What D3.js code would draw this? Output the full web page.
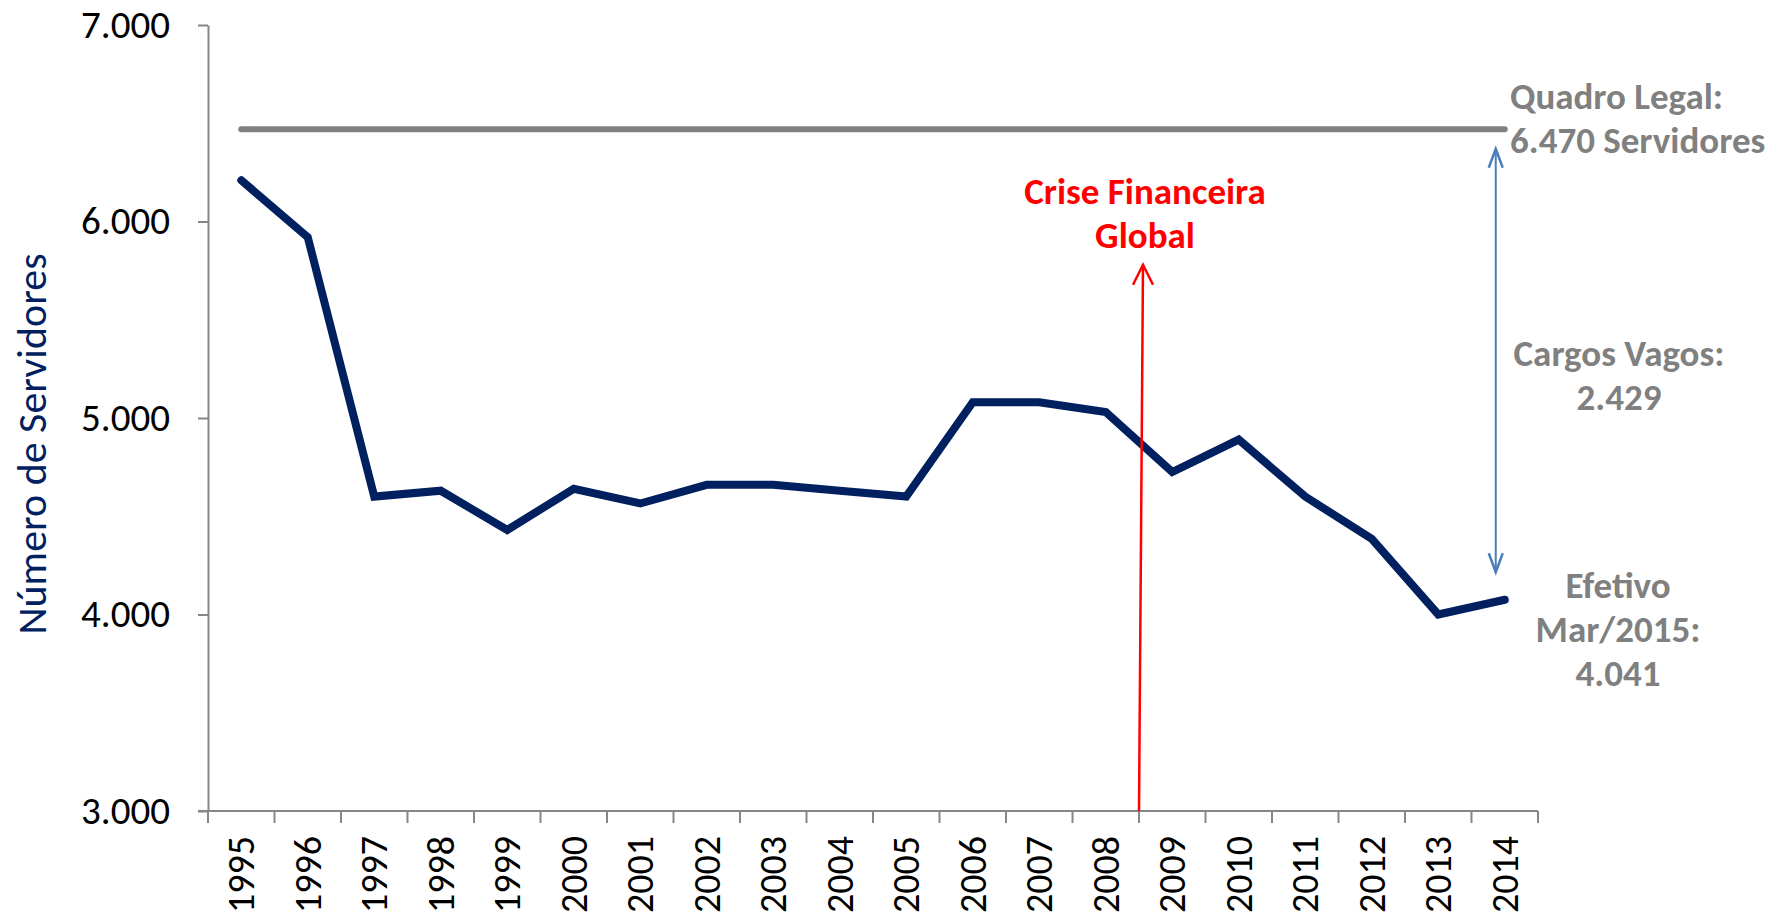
<!DOCTYPE html>
<html>
<head>
<meta charset="utf-8">
<script src="https://cdn.jsdelivr.net/npm/d3@7"></script>
<style>
  body { margin: 0; background: #fff; }
  svg text { font-family: Carlito, Calibri, Lato, "Open Sans", sans-serif; }
</style>
</head>
<body>
<svg id="chart" width="1773" height="920"></svg>
<script>
const years = ['1995', '1996', '1997', '1998', '1999', '2000', '2001', '2002', '2003', '2004',
  '2005', '2006', '2007', '2008', '2009', '2010', '2011', '2012', '2013', '2014'];
const servidores = [6210, 5920, 4600, 4630, 4430, 4640, 4565, 4660, 4660, 4630,
  4600, 5080, 5080, 5030, 4725, 4890, 4600, 4385, 4000, 4075];
const quadroLegal = 6470;
const yTicks = [3000, 4000, 5000, 6000, 7000];
// annotation anchors (values on the y scale)
const criseTopo = 5780;
const vagosTopo = 6370;
const vagosBase = 4215;

const svg = d3.select('#chart');

const x = d3.scaleBand().domain(years).range([208, 1538]).padding(0);
const y = d3.scaleLinear().domain([3000, 7000]).range([811, 25]);
const cx = d => x(d) + x.bandwidth() / 2;

const br = d3.formatLocale({ decimal: ',', thousands: '.', grouping: [3], currency: ['', ''] });
const fmt = br.format(',d');

const axisColor = '#868686';

// y axis
const yAxis = svg.append('g')
    .attr('transform', 'translate(208,0)')
    .call(d3.axisLeft(y).tickValues(yTicks).tickFormat(fmt).tickSize(10).tickSizeOuter(0));
yAxis.select('.domain').attr('stroke', axisColor).attr('stroke-width', 2);
yAxis.selectAll('.tick line').attr('stroke', axisColor).attr('stroke-width', 2);
yAxis.selectAll('.tick text')
    .attr('x', -38)
    .attr('fill', '#000')
    .style('font-size', '39px');

// x axis (ticks on band boundaries)
const xAxisG = svg.append('g').attr('transform', 'translate(0,811)');
xAxisG.append('line')
    .attr('x1', 198).attr('x2', x.range()[1])
    .attr('stroke', axisColor).attr('stroke-width', 2);
const bounds = years.map(d => x(d)).concat([x.range()[1]]);
xAxisG.selectAll('line.tk')
  .data(bounds)
  .enter().append('line')
    .attr('class', 'tk')
    .attr('x1', d => d).attr('x2', d => d)
    .attr('y1', 0).attr('y2', 12)
    .attr('stroke', axisColor).attr('stroke-width', 2);
xAxisG.selectAll('text')
  .data(years)
  .enter().append('text')
    .attr('transform', d => 'translate(' + (cx(d) + 13) + ',25) rotate(-90)')
    .attr('text-anchor', 'end')
    .style('font-size', '38px')
    .text(d => d);

// y axis title
svg.append('text')
    .attr('transform', 'translate(46,444) rotate(-90)')
    .attr('text-anchor', 'middle')
    .attr('fill', '#002060')
    .style('font-size', '42px')
    .text('Número de Servidores');

// quadro legal line
svg.append('line')
    .attr('x1', cx(years[0])).attr('x2', cx(years[years.length - 1]))
    .attr('y1', y(quadroLegal)).attr('y2', y(quadroLegal))
    .attr('stroke', '#808080').attr('stroke-width', 6).attr('stroke-linecap', 'round');

// main series
const line = d3.line().x((d, i) => cx(years[i])).y(d => y(d));
svg.append('path')
    .datum(servidores)
    .attr('d', line)
    .attr('fill', 'none')
    .attr('stroke', '#002060')
    .attr('stroke-width', 8)
    .attr('stroke-linejoin', 'miter')
    .attr('stroke-linecap', 'round');

// arrow heads
function arrowHead(g, px, py, dir, w, h, color) {
  g.append('path')
    .attr('d', 'M' + (px - w / 2) + ',' + (py + dir * h) + 'L' + px + ',' + py + 'L' + (px + w / 2) + ',' + (py + dir * h))
    .attr('fill', 'none').attr('stroke', color).attr('stroke-width', 2.5);
}

// crise financeira arrow
const crisX = x('2009');
const crisTopX = crisX + 4;
svg.append('line')
    .attr('x1', crisX).attr('y1', y(3000))
    .attr('x2', crisTopX).attr('y2', y(criseTopo))
    .attr('stroke', '#ff0000').attr('stroke-width', 2.5);
arrowHead(svg, crisTopX, y(criseTopo), 1, 20, 20, '#ff0000');

svg.append('text')
    .attr('text-anchor', 'middle')
    .attr('fill', '#ff0000')
    .style('font-size', '37px').style('font-weight', 'bold')
    .selectAll('tspan')
    .data(['Crise Financeira', 'Global'])
    .enter().append('tspan')
      .attr('x', crisTopX + 2)
      .attr('y', (d, i) => 204 + i * 44)
      .text(d => d);

// cargos vagos arrow
const vx = cx('2014') - 9;
svg.append('line')
    .attr('x1', vx).attr('x2', vx)
    .attr('y1', y(vagosTopo)).attr('y2', y(vagosBase))
    .attr('stroke', '#4a7ebb').attr('stroke-width', 2);
arrowHead(svg, vx, y(vagosTopo), 1, 14, 19, '#4a7ebb');
arrowHead(svg, vx, y(vagosBase), -1, 14, 19, '#4a7ebb');

// gray labels on the right
function grayBlock(lines, xPos, anchor, yStart) {
  svg.append('text')
      .attr('text-anchor', anchor)
      .attr('fill', '#808080')
      .style('font-size', '37px').style('font-weight', 'bold')
      .selectAll('tspan')
      .data(lines)
      .enter().append('tspan')
        .attr('x', xPos)
        .attr('y', (d, i) => yStart + i * 44)
        .text(d => d);
}
grayBlock(['Quadro Legal:', '6.470 Servidores'], 1510, 'start', 109);
grayBlock(['Cargos Vagos:', '2.429'], 1619, 'middle', 366);
grayBlock(['Efetivo', 'Mar/2015:', '4.041'], 1618, 'middle', 598);
</script>
</body>
</html>
